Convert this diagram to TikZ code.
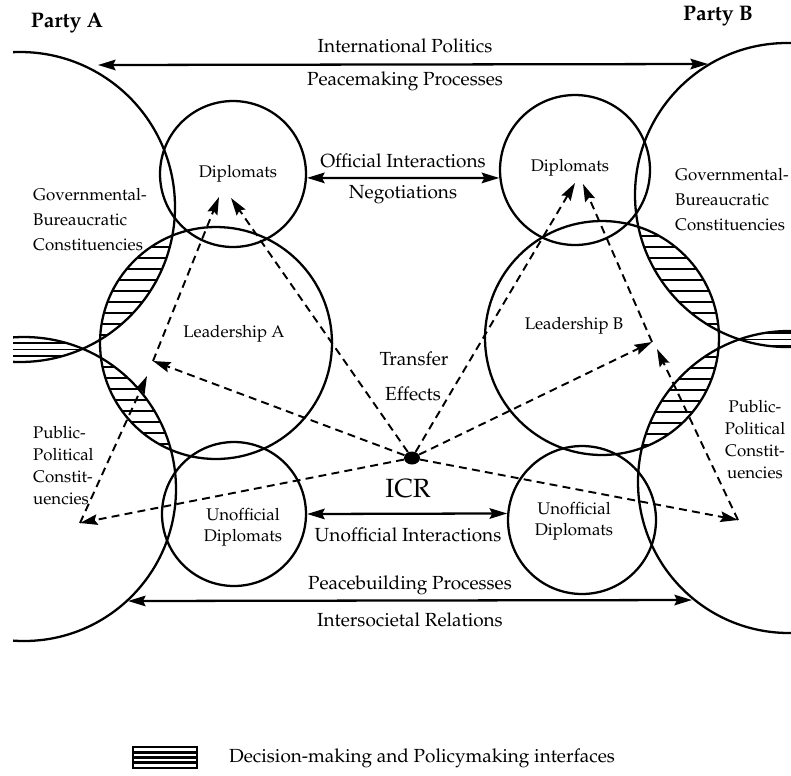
\documentclass[tikz,border=0pt]{standalone}
\usepackage[T1]{fontenc}
\usepackage{mathpazo}
\usetikzlibrary{arrows.meta}
\usetikzlibrary{shapes.geometric}

\begin{document}
\begin{tikzpicture}[x=0.02cm, y=-0.02cm,
			ring/.style={draw, circle, line width=1.3pt, inner sep=0pt},
			lbl/.style={font=\fontsize{9.6}{12}\selectfont, align=center},
			big/.style={font=\fontsize{10.8}{13}\selectfont},
			side/.style={font=\fontsize{9.6}{14.2}\selectfont, align=left, anchor=west},
			flow/.style={line width=1.3pt, {Stealth[length=10pt,width=6pt,inset=1.5pt]}-{Stealth[length=10pt,width=6pt,inset=1.5pt]}},
			effect/.style={line width=1.1pt, dash pattern=on 4.5pt off 3pt, -{Stealth[length=10pt,width=6pt,inset=1.5pt]}},
			hatch/.style={line width=1pt}]
			\useasboundingbox (0,0) rectangle (791,775);
			\coordinate (govA) at (20,207);
			\coordinate (pubA) at (24,489);
			\coordinate (govB) at (787,195);
			\coordinate (pubB) at (789,482);
			\node[ring, minimum size=2.92cm] (dipA)at(233,174) {};
			\node[ring, minimum size=3.0cm] (dipB)at(575,170) {};
			\node[ring, minimum size=4.64cm] (leadA)at(216,343) {};
			\node[ring, minimum size=4.68cm] (leadB)at(602,338) {};
			\node[ring, minimum size=2.88cm] (unA)at(234,514) {};
			\node[ring, minimum size=2.96cm] (unB)at(582,520) {};
			\begin{scope}
				\clip (govA) circle[radius=155];
				\clip (leadA) circle[radius=116];
				\foreach \y in {236,247,...,356} \draw[hatch] (60,\y) -- (200,\y);
			\end{scope}
			\begin{scope}
				\clip (pubA) circle[radius=152];
				\clip (leadA) circle[radius=116];
				\foreach \y in {345,356,...,460} \draw[hatch] (60,\y) -- (200,\y);
			\end{scope}
			\begin{scope}
				\clip (govB) circle[radius=152];
				\clip (leadB) circle[radius=117];
				\foreach \y in {225,236,...,345} \draw[hatch] (600,\y) -- (760,\y);
			\end{scope}
			\begin{scope}
				\clip (pubB) circle[radius=151];
				\clip (leadB) circle[radius=117];
				\foreach \y in {335,346,...,455} \draw[hatch] (600,\y) -- (760,\y);
			\end{scope}
			\begin{scope}
				\clip (13,0) rectangle (791,775);
				\clip (govA) circle[radius=155];
				\clip (pubA) circle[radius=152];
				\foreach \y in {343,349.5,356} \draw[hatch] (0,\y) -- (100,\y);
			\end{scope}
			\begin{scope}
				\clip (govB) circle[radius=152];
				\clip (pubB) circle[radius=151];
				\foreach \y in {333,339.5,346} \draw[hatch] (720,\y) -- (791,\y);
			\end{scope}
			\begin{scope}
				\clip (13,0) rectangle (791,775);
				\draw[line width=1.3pt] (govA) circle[radius=155];
				\draw[line width=1.3pt] (pubA) circle[radius=152];
				\draw[line width=1.3pt] (govB) circle[radius=152];
				\draw[line width=1.3pt] (pubB) circle[radius=151];
			\end{scope}
			\node[font=\fontsize{12}{14}\selectfont\bfseries] (partyA)at(67,23) {Party A};
			\node[font=\fontsize{12}{14}\selectfont\bfseries] (partyB)at(718,16) {Party B};
			\node[big] (intpol)at(405,46) {International Politics};
			\node[big] (peacem)at(405,81) {Peacemaking Processes};
			\node[big] (offint)at(403,161) {Official Interactions};
			\node[big] (negot)at(403,195) {Negotiations};
			\node[lbl] (tdipA)at(238,174) {Diplomats};
			\node[lbl] (tdipB)at(570,168) {Diplomats};
			\node[side] (govtA)at(27,220) {Governmental-\\Bureaucratic\\Constituencies};
			\node[side] (govtB)at(669,200) {Governmental-\\Bureaucratic\\Constituencies};
			\node[lbl] (tleadA)at(234,334) {Leadership A};
			\node[lbl] (tleadB)at(574,326) {Leadership B};
			\node[big] (transf)at(414,359) {Transfer};
			\node[big] (effec)at(413,394) {Effects};
			\node[side, font=\fontsize{9.6}{12.5}\selectfont] (pubtA)at(27,466) {Public-\\Political\\Constit-\\uencies};
			\node[lbl, font=\fontsize{9.6}{12.5}\selectfont] (pubtB)at(755,440) {Public-\\Political\\Constit-\\uencies};
			\node[font=\fontsize{15}{18}\selectfont] (icrlbl)at(408,489) {ICR};
			\node[lbl] (tunA)at(243,527) {Unofficial\\Diplomats};
			\node[lbl] (tunB)at(574,521) {Unofficial\\Diplomats};
			\node[big] (unint)at(408,535) {Unofficial Interactions};
			\node[big] (peaceb)at(410,585) {Peacebuilding Processes};
			\node[big] (intsoc)at(410,620) {Intersocietal Relations};
			\coordinate (ipA) at (98,65);
			\coordinate (ipB) at (708,64);
			\coordinate (pbA) at (128,601);
			\coordinate (pbB) at (692,600);
			\draw[flow] (ipA) -- (ipB);
			\draw[flow] (dipA.-3) -- (dipB.186);
			\draw[flow] (unA.0) -- (unB.175);
			\draw[flow] (pbA) -- (pbB);
			\node[ellipse, fill, minimum width=0.32cm, minimum height=0.26cm, inner sep=0pt] (icr)at(412,458) {};
			\coordinate (lA) at (153,361);
			\coordinate (lA2) at (147,376);
			\coordinate (pA) at (80,523);
			\coordinate (dA1) at (219,197);
			\coordinate (dA2) at (231,198);
			\coordinate (lB) at (652,342);
			\coordinate (lB2) at (657,349);
			\coordinate (pB) at (738,520);
			\coordinate (dB1) at (583,184);
			\coordinate (dB2) at (575,183);
			\draw[effect] (icr) -- (lA);
			\draw[effect] (icr) -- (pA);
			\draw[effect] (pA) -- (lA2);
			\draw[effect] (lA) -- (dA1);
			\draw[effect] (icr) -- (dA2);
			\draw[effect] (icr) -- (lB);
			\draw[effect] (icr) -- (pB);
			\draw[effect] (pB) -- (lB2);
			\draw[effect] (lB) -- (dB1);
			\draw[effect] (icr) -- (dB2);
			\node[draw, line width=1.2pt, minimum width=1.28cm, minimum height=0.42cm, inner sep=0pt] (legbox)at(165,757.5) {};
			\foreach \y in {752.5,757.5,762.5} \draw[line width=1.3pt] (legbox.west |- 0,\y) -- (legbox.east |- 0,\y);
			\node[big, anchor=west] (legtxt)at(223,758) {Decision-making and Policymaking interfaces};
		\end{tikzpicture}
\end{document}
